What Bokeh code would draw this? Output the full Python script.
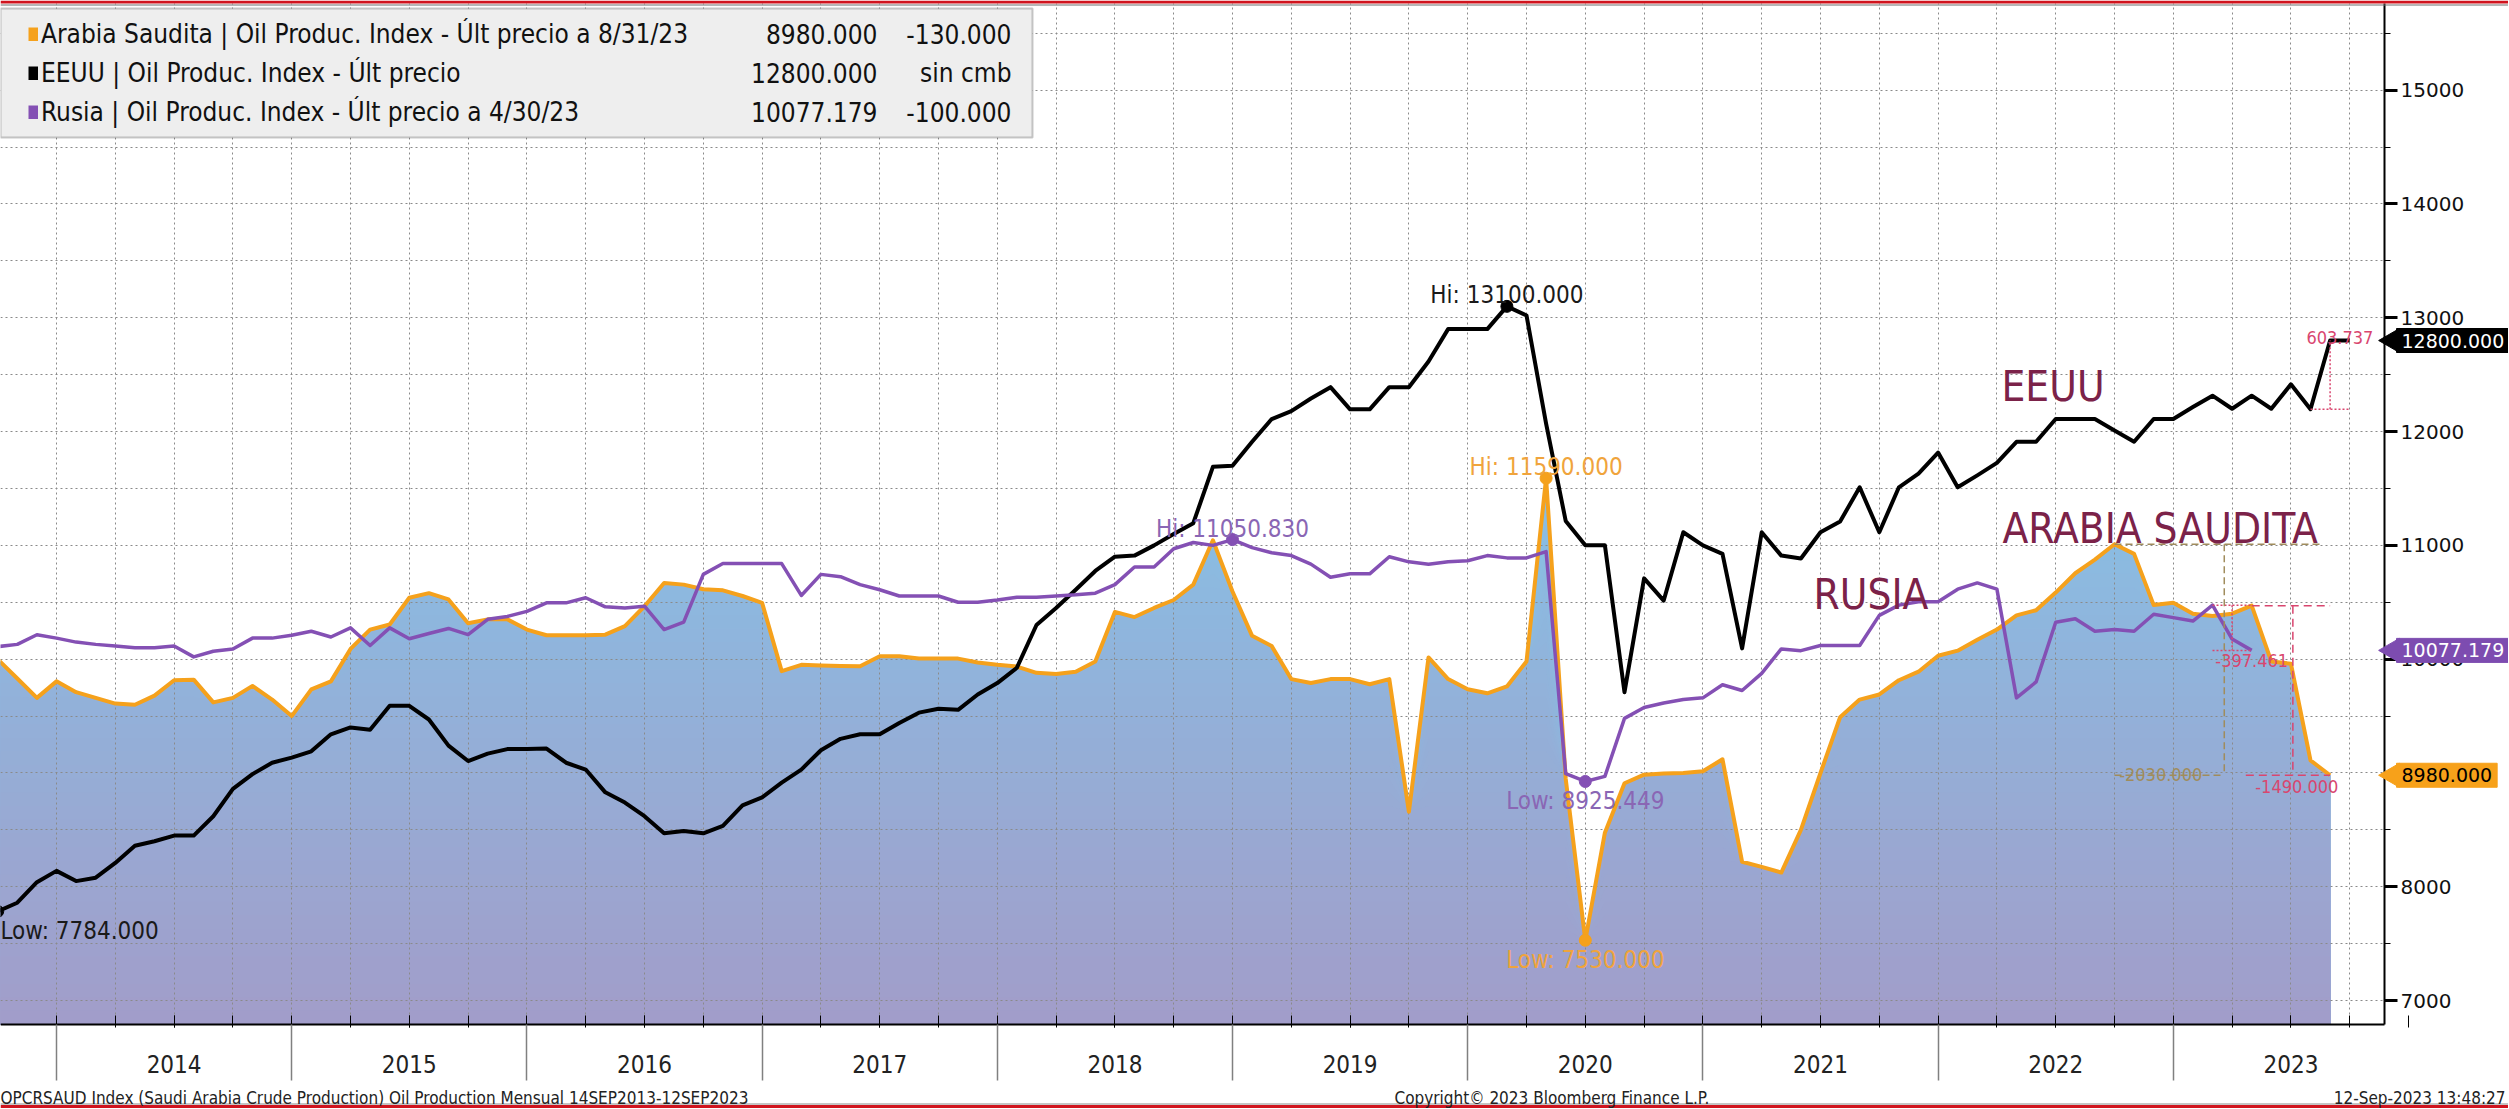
import numpy as np
from bokeh.plotting import figure
from bokeh.models import (Range1d, LinearAxis, FixedTicker, Grid, Label, Legend, LegendItem,
                          BoxAnnotation, Span)
from bokeh.embed import file_html
from bokeh.resources import INLINE

# ---------------- data: monthly values (month-end), first point = Sep 2013 ----------------
FIRST_MONTH_INDEX = -3          # Sep-2013 counted in months from Jan-2014
years = [2014, 2015, 2016, 2017, 2018, 2019, 2020, 2021, 2022, 2023]
year_labels = [str(y) for y in years]

saudi_arabia = [
    10000, 9830, 9660, 9805, 9710, 9660, 9610, 9600, 9680, 9815,
    9820, 9620, 9660, 9765, 9645, 9500, 9735, 9805, 10090, 10260,
    10305, 10540, 10580, 10525, 10315, 10350, 10350, 10260, 10210, 10210,
    10210, 10215, 10290, 10465, 10670, 10655, 10615, 10605, 10555, 10495,
    9895, 9950, 9945, 9940, 9937, 10025, 10025, 10005, 10005, 10005,
    9970, 9950, 9935, 9880, 9870, 9890, 9980, 10415, 10370, 10450,
    10520, 10655, 11045, 10595, 10205, 10115, 9825, 9790, 9825, 9825,
    9780, 9825, 8660, 10015, 9825, 9735, 9700, 9760, 9980, 11590,
    8950, 7530, 8475, 8910, 8985, 8995, 9000, 9015, 9120, 8220,
    8175, 8125, 8500, 9000, 9490, 9645, 9690, 9815, 9890, 10030,
    10075, 10170, 10260, 10385, 10430, 10585, 10755, 10875, 11010, 10925,
    10475, 10495, 10400, 10380, 10400, 10470, 9980, 9960, 9110, 8980,
]

united_states = [
    7784, 7860, 8040, 8140, 8050, 8080, 8210, 8360, 8400, 8450,
    8450, 8620, 8860, 8990, 9090, 9135, 9190, 9340, 9400, 9380,
    9590, 9590, 9470, 9240, 9105, 9170, 9210, 9210, 9215, 9090,
    9030, 8830, 8740, 8620, 8470, 8490, 8470, 8535, 8715, 8785,
    8915, 9030, 9200, 9300, 9340, 9340, 9440, 9530, 9565, 9555,
    9690, 9790, 9925, 10300, 10450, 10610, 10775, 10900, 10910, 11000,
    11100, 11195, 11690, 11700, 11910, 12110, 12180, 12290, 12390, 12195,
    12195, 12390, 12390, 12615, 12900, 12900, 12900, 13100, 13020, 12070,
    11215, 11000, 11000, 9710, 10710, 10515, 11115, 11000, 10925, 10095,
    11115, 10910, 10885, 11115, 11210, 11510, 11115, 11510, 11630, 11815,
    11510, 11615, 11725, 11910, 11910, 12110, 12110, 12110, 12010, 11910,
    12110, 12110, 12215, 12315, 12200, 12315, 12200, 12415, 12196.263, 12800,
    12800,
]

russia = [
    10110, 10130, 10215, 10185, 10150, 10130, 10115, 10100, 10100, 10115,
    10020, 10070, 10090, 10185, 10185, 10210, 10245, 10195, 10275, 10120,
    10275, 10180, 10225, 10270, 10215, 10350, 10375, 10420, 10495, 10495,
    10540, 10460, 10450, 10465, 10260, 10325, 10745, 10840, 10840, 10840,
    10840, 10560, 10745, 10725, 10655, 10610, 10555, 10555, 10555, 10500,
    10500, 10520, 10545, 10545, 10555, 10565, 10580, 10655, 10810, 10810,
    10970, 11025, 11000, 11050.83, 10980, 10935, 10910, 10835, 10720, 10750,
    10750, 10900, 10855, 10835, 10855, 10865, 10910, 10890, 10890, 10945,
    8995, 8925.449, 8970, 9480, 9575, 9615, 9645, 9660, 9775, 9725,
    9875, 10090, 10075, 10120, 10120, 10120, 10385, 10475, 10505, 10505,
    10615, 10670, 10615, 9660, 9800, 10325, 10355, 10245, 10260, 10245,
    10395, 10365, 10335, 10474.64, 10177.179, 10077.179,
]

legend_labels = [
    "Arabia Saudita | Oil Produc. Index - Últ precio a 8/31/23",
    "EEUU | Oil Produc. Index - Últ precio",
    "Rusia | Oil Produc. Index - Últ precio a 4/30/23",
]
series_names = ["EEUU", "ARABIA SAUDITA", "RUSIA"]

# ---------------- styling ----------------
FONT = "DejaVu Sans Condensed"
AXFONT = "DejaVu Sans"
ORANGE = "#f5a11c"
BLACK = "#000000"
PURPLE = "#8450b4"
MAROON = "#7b2249"
PINK = "#d9466f"
OLIVE = "#a08c5c"
RED = "#d0141e"
FILL_TOP = (136, 191, 228)
FILL_BOTTOM = (162, 156, 201)

W, H = 2508, 1109          # canvas = page
JAN2014_PX, PX_MONTH = 56.0, 19.6
V7000_PY, PX_PER_UNIT = 1000.1, 0.11381


def dx(px):   # page x -> month index
    return (px - JAN2014_PX) / PX_MONTH


def dy(py):   # page y -> value
    return 7000 + (V7000_PY - py) / PX_PER_UNIT


X_LEFT, X_RIGHT = dx(0), dx(W)
Y_BOTTOM, Y_TOP = dy(H), dy(0)
X_AX = dx(2384)      # right axis position
Y_AX = dy(1024)      # bottom axis position
Y_PLOT_TOP = dy(3)


def months(series):
    return [FIRST_MONTH_INDEX + i for i in range(len(series))]


m_sa, m_us, m_ru = months(saudi_arabia), months(united_states), months(russia)
sa = np.array(saudi_arabia, dtype=float)
us = np.array(united_states, dtype=float)
ru = np.array(russia, dtype=float)

p = figure(width=W, height=H, output_backend="svg", toolbar_location=None, title=None,
           x_range=Range1d(X_LEFT, X_RIGHT), y_range=Range1d(Y_BOTTOM, Y_TOP),
           x_axis_location=None, y_axis_location=None,
           min_border_left=0, min_border_top=0, min_border_right=0, min_border_bottom=0)
p.outline_line_color = None
p.background_fill_color = "white"
p.border_fill_color = "white"
for g in p.grid:
    g.visible = False

# ---------------- gradient area for Saudi Arabia (stacked bands, tallest first) ----------------
NB = 40
tops = np.linspace(sa.max(), Y_AX, NB + 1)[:-1]
frac = (tops - Y_AX) / (sa.max() - Y_AX)
for top, f in zip(tops, frac):
    col = "#%02x%02x%02x" % tuple(int(round(FILL_BOTTOM[k] + (FILL_TOP[k] - FILL_BOTTOM[k]) * f))
                                  for k in range(3))
    p.varea(x=m_sa, y1=Y_AX, y2=np.minimum(sa, top), fill_color=col, level="image")

# ---------------- grids ----------------
quarters = list(range(-3, 121, 3))
halfk = list(range(7000, 16000, 500))
p.add_layout(Grid(dimension=0, ticker=FixedTicker(ticks=quarters), grid_line_color="#8a8a8a",
                  grid_line_dash="2 3", grid_line_width=1))
p.add_layout(Grid(dimension=1, ticker=FixedTicker(ticks=halfk), grid_line_color="#8a8a8a",
                  grid_line_dash="2 3", grid_line_width=1))
# blank the areas outside the plotting region (below x axis, right of y axis, top strip)
p.add_layout(BoxAnnotation(top=Y_AX, fill_color="white", fill_alpha=1, line_alpha=0, level="glyph"))
p.add_layout(BoxAnnotation(left=X_AX, fill_color="white", fill_alpha=1, line_alpha=0, level="glyph"))
p.add_layout(BoxAnnotation(bottom=Y_PLOT_TOP, fill_color="white", fill_alpha=1, line_alpha=0, level="glyph"))
# window frame lines
p.add_layout(Span(location=dy(1.5), dimension="width", line_color=RED, line_width=3))
p.add_layout(Span(location=dy(4.5), dimension="width", line_color="#6e6e6e", line_width=1))
p.add_layout(Span(location=dy(1103.5), dimension="width", line_color="#8a8a8a", line_width=1))
p.add_layout(Span(location=dy(1106), dimension="width", line_color=RED, line_width=3))

# ---------------- axes ----------------
year_starts = [(y - 2014) * 12 for y in years]
mid_years = [(y - 2014) * 12 + 6 for y in years]
ax = LinearAxis(fixed_location=Y_AX, bounds=(X_LEFT, X_AX),
                ticker=FixedTicker(ticks=mid_years, minor_ticks=quarters),
                major_label_overrides={m: lab for m, lab in zip(mid_years, year_labels)},
                axis_line_color="black", axis_line_width=2,
                major_tick_in=9, major_tick_out=3, minor_tick_in=9, minor_tick_out=3,
                major_tick_line_color="black", minor_tick_line_color="black",
                major_label_standoff=27, major_label_text_font=FONT,
                major_label_text_font_size="24px", major_label_text_color="#222222")
p.add_layout(ax, "below")
axb = LinearAxis(fixed_location=Y_AX, bounds=(X_LEFT, X_AX),
                 ticker=FixedTicker(ticks=[], minor_ticks=year_starts),
                 axis_line_color=None, major_tick_line_color=None,
                 minor_tick_in=0, minor_tick_out=56,
                 minor_tick_line_color="#808080", minor_tick_line_width=1.5)
p.add_layout(axb, "below")

ay = LinearAxis(fixed_location=X_AX, bounds=(Y_AX, Y_PLOT_TOP),
                ticker=FixedTicker(ticks=list(range(7000, 16000, 1000)), minor_ticks=halfk),
                axis_line_color="black", axis_line_width=2,
                major_tick_in=0, major_tick_out=13, major_tick_line_width=3,
                minor_tick_in=0, minor_tick_out=6,
                major_label_standoff=3, major_label_text_font=AXFONT,
                major_label_text_font_size="20px", major_label_text_color="#111111")
p.add_layout(ay, "right")

# ---------------- lines ----------------
p.line(m_sa, sa, line_color=ORANGE, line_width=4, line_join="round")
p.line(m_us, us, line_color=BLACK, line_width=4, line_join="round")
p.line(m_ru, ru, line_color=PURPLE, line_width=3.5, line_join="round")


# ---------------- hi / low markers ----------------
def mark(ms, arr, idx, color, text, tcolor, above, align="center", x=None):
    p.scatter([ms[idx]], [arr[idx]], size=12, color=color)
    p.add_layout(Label(x=ms[idx] if x is None else x, y=arr[idx], text=text, text_align=align,
                       text_baseline="alphabetic" if above else "top",
                       y_offset=11 if above else -6,
                       text_font=FONT, text_font_size="24px", text_color=tcolor))


i = int(np.argmax(us)); mark(m_us, us, i, BLACK, f"Hi: {us[i]:.3f}", "#1a1a1a", True)
i = int(np.argmin(us)); mark(m_us, us, i, BLACK, f"Low: {us[i]:.3f}", "#1a1a1a", False, "left", X_LEFT)
i = int(np.argmax(sa)); mark(m_sa, sa, i, ORANGE, f"Hi: {sa[i]:.3f}", "#f0a43c", True)
i = int(np.argmin(sa)); mark(m_sa, sa, i, ORANGE, f"Low: {sa[i]:.3f}", "#f0a43c", False)
i = int(np.argmax(ru)); mark(m_ru, ru, i, PURPLE, f"Hi: {ru[i]:.3f}", "#8a66b4", True)
i = int(np.argmin(ru)); mark(m_ru, ru, i, PURPLE, f"Low: {ru[i]:.3f}", "#8a66b4", False)

# ---------------- measurement brackets ----------------
SMALL = "18px"
# US: last change
p.segment(x0=[m_us[-2], m_us[-3]], y0=[us[-3], us[-3]], x1=[m_us[-2], m_us[-1]], y1=[us[-2], us[-3]],
          line_color=PINK, line_dash="2 2", line_width=1.5)
p.add_layout(Label(x=(m_us[-2] + m_us[-1]) / 2, y=us[-2], text=f"{us[-2] - us[-3]:.3f}",
                   text_align="center", text_baseline="alphabetic", y_offset=3,
                   text_font=FONT, text_font_size=SMALL, text_color=PINK))
# Russia: last two months
p.segment(x0=[m_ru[-3], m_ru[-3], m_ru[-2]], y0=[ru[-3], ru[-1], ru[-3]],
          x1=[m_ru[-1], m_ru[-1], m_ru[-2]], y1=[ru[-3], ru[-1], ru[-1]],
          line_color=PINK, line_dash="2 2", line_width=1.5)
p.add_layout(Label(x=m_ru[-1], y=ru[-1], text=f"{ru[-1] - ru[-3]:.3f}",
                   text_align="center", text_baseline="top", y_offset=-4,
                   text_font=FONT, text_font_size=SMALL, text_color=PINK))
# Saudi: from the 2022 peak
ip = int(np.argmax(sa[-24:])) + len(sa) - 24
xv = m_sa[ip] + 5.6
p.segment(x0=[m_sa[ip], xv, m_sa[ip]], y0=[sa[ip], sa[ip], sa[-1]],
          x1=[m_sa[ip] + 10.5, xv, xv], y1=[sa[ip], sa[-1], sa[-1]],
          line_color=OLIVE, line_dash="7 4", line_width=1.5)
p.add_layout(Label(x=xv, y=sa[-1], text=f"{sa[-1] - sa[ip]:.3f}", text_align="right",
                   text_baseline="alphabetic", x_offset=-22, y_offset=1,
                   text_font=FONT, text_font_size=SMALL, text_color=OLIVE))
# Saudi: from April 2023
iq = len(sa) - 5
xv2 = m_sa[iq] + 2.1
p.segment(x0=[m_sa[iq], xv2, m_sa[iq] - 0.3], y0=[sa[iq], sa[iq], sa[-1]],
          x1=[m_sa[-1], xv2, m_sa[-1]], y1=[sa[iq], sa[-1], sa[-1]],
          line_color=PINK, line_dash="8 5", line_width=1.5)
p.add_layout(Label(x=xv2 + 0.2, y=sa[-1], text=f"{sa[-1] - sa[iq]:.3f}", text_align="center",
                   text_baseline="top", y_offset=-5,
                   text_font=FONT, text_font_size=SMALL, text_color=PINK))

# ---------------- big series names ----------------
for name, px, py in zip(series_names, [2001, 2002, 1813], [386, 528, 594]):
    p.add_layout(Label(x=dx(px), y=dy(py), text=name, text_align="left", text_baseline="alphabetic",
                       text_font=FONT, text_font_size="42px", text_color=MAROON))

# ---------------- legend ----------------
LEG_TOP, LEG_W = 8, 1032
LEG_PAD, LEG_ROW, LEG_SP = 10, 31, 8
leg_h = 2 * LEG_PAD + 3 * LEG_ROW + 2 * LEG_SP
p.add_layout(BoxAnnotation(left=dx(0), right=dx(LEG_W), top=dy(LEG_TOP), bottom=dy(LEG_TOP + leg_h),
                           fill_color="#eeeeee", fill_alpha=1, line_color="#4d4d4d", line_width=2,
                           level="annotation"))
leg_r = [p.line(x=[m[-1]], y=[v[-1]], line_color=c, line_width=14, line_dash="0 18 10 0", visible=False)
         for m, v, c in ((m_sa, sa, ORANGE), (m_us, us, BLACK), (m_ru, ru, PURPLE))]
legend = Legend(items=[LegendItem(label=l, renderers=[r]) for l, r in zip(legend_labels, leg_r)],
                location=(0, H - LEG_TOP - leg_h), orientation="vertical", margin=0,
                padding=LEG_PAD, spacing=LEG_SP, label_height=LEG_ROW, glyph_height=14, glyph_width=28,
                label_standoff=3, label_width=LEG_W - 2 * LEG_PAD - 28 - 3, label_text_font=FONT,
                label_text_font_size="26px", label_text_color="#111111",
                background_fill_alpha=0, border_line_alpha=0)
p.add_layout(legend)

last_vals = [f"{sa[-1]:.3f}", f"{us[-1]:.3f}", f"{ru[-1]:.3f}"]
chg = [sa[-1] - sa[-2], us[-1] - us[-2], ru[-1] - ru[-2]]
chg_txt = [f"{c:.3f}" if c != 0 else "sin cmb" for c in chg]
for k in range(3):
    cy = LEG_TOP + LEG_PAD + LEG_ROW / 2 + (LEG_ROW + LEG_SP) * k
    p.add_layout(Label(x=dx(877), y=dy(cy), text=last_vals[k], text_align="right", text_baseline="middle",
                       text_font=FONT, text_font_size="26px", text_color="#111111", level="overlay"))
    p.add_layout(Label(x=dx(1011), y=dy(cy), text=chg_txt[k], text_align="right", text_baseline="middle",
                       text_font=FONT, text_font_size="26px", text_color="#111111", level="overlay"))

# ---------------- last value tags on the axis (arrow + box) ----------------
for val, bg, fg in [(us[-1], "black", "white"), (ru[-1], "#7d4cb0", "white"), (sa[-1], "#f7a11a", "black")]:
    p.scatter([dx(2392)], [val], marker="triangle", angle=np.pi / 2, size=24,
              fill_color=bg, line_color=bg, level="overlay")
    p.add_layout(Label(x=dx(2396), y=val, text=f"{val:.3f}", text_align="left", text_baseline="middle",
                       text_font=AXFONT, text_font_size="19px", text_color=fg,
                       background_fill_color=bg, border_line_color=bg, padding=5, level="overlay"))

# ---------------- footer ----------------
FOOT = dict(text_baseline="alphabetic", text_font=FONT, text_font_size="17px", text_color="#222222",
            level="overlay")
p.add_layout(Label(x=dx(0), y=dy(1097),
                   text="OPCRSAUD Index (Saudi Arabia Crude Production) Oil Production  Mensual 14SEP2013-12SEP2023",
                   text_align="left", **FOOT))
p.add_layout(Label(x=dx(1394), y=dy(1097), text="Copyright© 2023 Bloomberg Finance L.P.",
                   text_align="left", **FOOT))
p.add_layout(Label(x=dx(2505), y=dy(1097), text="12-Sep-2023 13:48:27", text_align="right", **FOOT))

open("out.html", "w").write(file_html(p, INLINE))
